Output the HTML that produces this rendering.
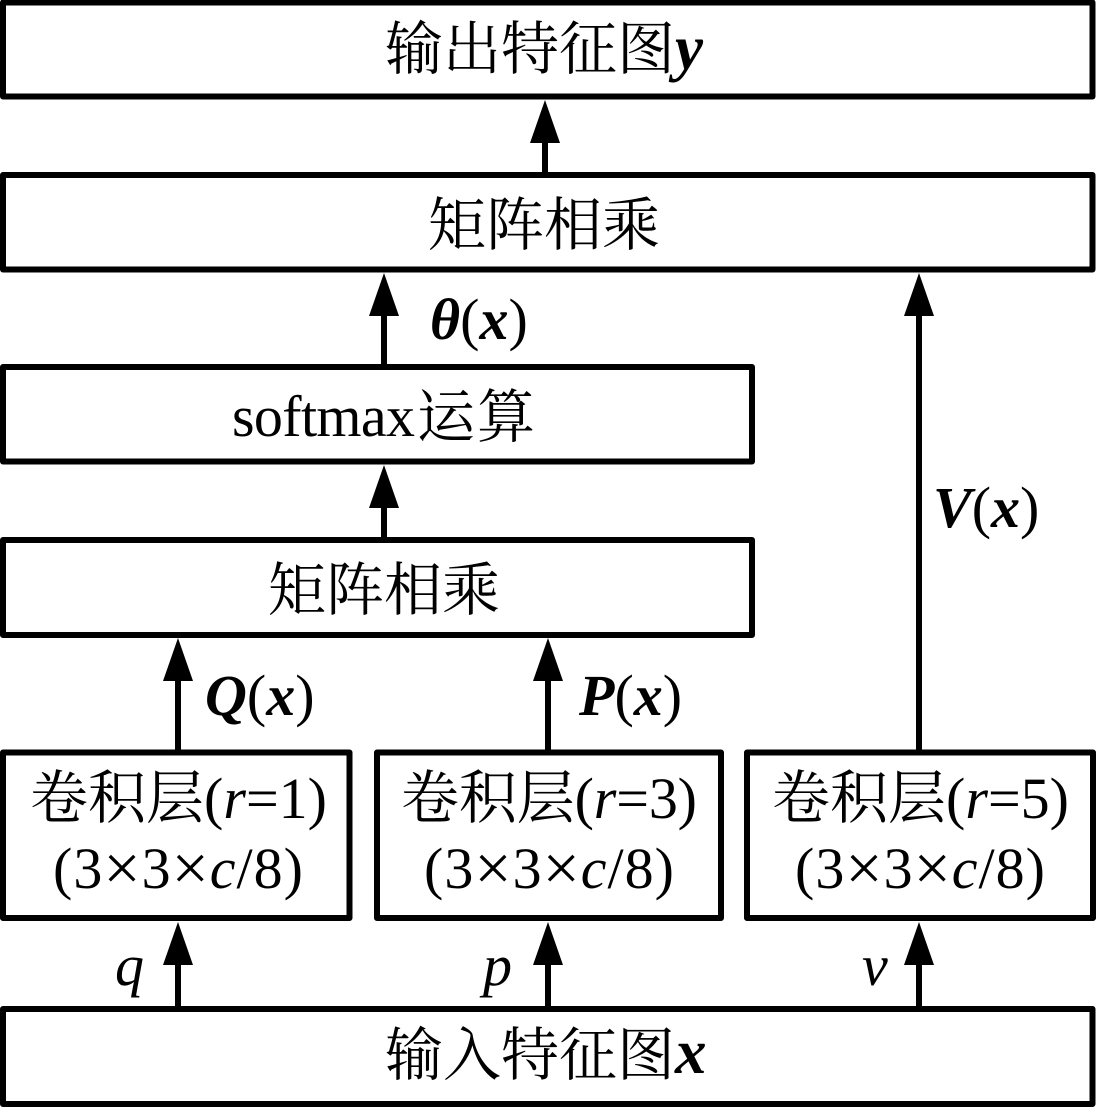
<!DOCTYPE html>
<html lang="zh">
<head>
<meta charset="utf-8">
<style>
html,body{margin:0;padding:0;background:#fff;width:1097px;height:1107px;overflow:hidden}
svg{display:block}
text{font-family:"Liberation Serif","Noto Serif CJK SC",serif;font-size:58px;fill:#000}
.i{font-style:italic}
.b{font-style:italic;font-weight:bold}
.x{font-size:63px}
.m{font-size:66px}
rect{fill:#fff;stroke:#000;stroke-width:6;stroke-linejoin:round}
line{stroke:#000;stroke-width:6}
polygon{fill:#000}
</style>
</head>
<body>
<svg width="1097" height="1107" viewBox="0 0 1097 1107" xmlns="http://www.w3.org/2000/svg">
<line x1="545" y1="140" x2="545" y2="175"/><polygon points="545,100 530,143 560,143"/>
<line x1="384" y1="313" x2="384" y2="367"/><polygon points="384,273 369,316 399,316"/>
<line x1="384" y1="500" x2="384" y2="540"/><polygon points="384,465 369,508 399,508"/>
<line x1="178" y1="675" x2="178" y2="752"/><polygon points="178,638 163,681 193,681"/>
<line x1="548" y1="675" x2="548" y2="752"/><polygon points="548,638 533,681 563,681"/>
<line x1="919" y1="310" x2="919" y2="752"/><polygon points="919,273 904,316 934,316"/>
<line x1="178" y1="960" x2="178" y2="1009"/><polygon points="178,922 163,965 193,965"/>
<line x1="548" y1="960" x2="548" y2="1009"/><polygon points="548,922 533,965 563,965"/>
<line x1="919" y1="960" x2="919" y2="1009"/><polygon points="919,922 904,965 934,965"/>

<rect x="3" y="2.5" width="1089.5" height="94"/>
<rect x="3" y="175" width="1089.5" height="94.5"/>
<rect x="3" y="367" width="749" height="94.5"/>
<rect x="3" y="540" width="749" height="95"/>
<rect x="3" y="752.5" width="346.5" height="165.5"/>
<rect x="377" y="752.5" width="344" height="165.5"/>
<rect x="747" y="752.5" width="346" height="165.5"/>
<rect x="3" y="1009" width="1089.5" height="95"/>

<text x="385" y="69">输出特征图<tspan class="b x">y</tspan></text>
<text x="428" y="245">矩阵相乘</text>
<text x="232" y="436" textLength="183">softmax</text>
<text x="417" y="437" textLength="118">运算</text>
<text x="268" y="610">矩阵相乘</text>
<text x="385" y="1075">输入特征图<tspan class="b x" y="1073">x</tspan></text>

<text x="430" y="339"><tspan class="b">θ</tspan>(<tspan class="b">x</tspan>)</text>
<text x="205" y="715"><tspan class="b">Q</tspan>(<tspan class="b">x</tspan>)</text>
<text x="579" y="715"><tspan class="b">P</tspan>(<tspan class="b">x</tspan>)</text>
<text x="933" y="527"><tspan class="b">V</tspan>(<tspan class="b">x</tspan>)</text>

<text x="115" y="985" class="i">q</text>
<text x="483" y="985" class="i">p</text>
<text x="862" y="985" class="i">v</text>

<text x="30" y="818" textLength="297">卷积层(<tspan class="i">r</tspan>=1)</text>
<text x="53" y="888" textLength="250">(3<tspan class="m" y="890">×</tspan><tspan y="888">3</tspan><tspan class="m" y="890">×</tspan><tspan class="i" y="888">c</tspan>/8)</text>
<text x="401" y="818" textLength="296">卷积层(<tspan class="i">r</tspan>=3)</text>
<text x="424" y="888" textLength="250">(3<tspan class="m" y="890">×</tspan><tspan y="888">3</tspan><tspan class="m" y="890">×</tspan><tspan class="i" y="888">c</tspan>/8)</text>
<text x="772" y="818" textLength="297">卷积层(<tspan class="i">r</tspan>=5)</text>
<text x="795" y="888" textLength="250">(3<tspan class="m" y="890">×</tspan><tspan y="888">3</tspan><tspan class="m" y="890">×</tspan><tspan class="i" y="888">c</tspan>/8)</text>
</svg>
</body>
</html>
